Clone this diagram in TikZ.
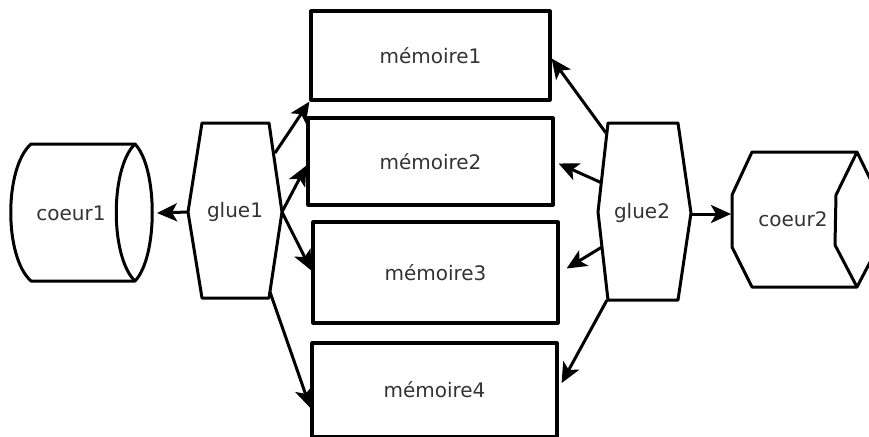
\documentclass[tikz,border=0pt]{standalone}
\usepackage{fontspec}
\setmainfont{DejaVu Sans}
\usetikzlibrary{arrows.meta,calc}
\begin{document}
\begin{tikzpicture}[x=0.5pt,y=-0.5pt,line width=1.5pt,line join=round,
  txt/.style={text=black!80,inner sep=0pt,font=\fontsize{10}{12}\selectfont},
  membox/.style={txt,draw=black,line width=1.6pt,rectangle},
  conn/.style={-{Stealth[length=10pt,width=9pt,inset=2.5pt]}}]
\useasboundingbox (0,0) rectangle (869,436);
\clip (0,0) rectangle (869,436);
% memories
\node[membox,minimum width=119.5pt,minimum height=44.5pt] (mem1) at (430.5,55.5) {mémoire1};
\node[membox,minimum width=122.5pt,minimum height=43.5pt] (mem2) at (430.5,161.5) {mémoire2};
\node[membox,minimum width=122.5pt,minimum height=50.5pt] (mem3) at (435.5,272.5) {mémoire3};
\node[membox,minimum width=122.5pt,minimum height=47pt] (mem4) at (434.5,390) {mémoire4};
% coeur1
\draw (31,144) -- (135,144) .. controls (158,168) and (158,257) .. (135,281) -- (31,281)
      .. controls (4,257) and (4,168) .. (31,144) -- cycle;
\draw (135,144) .. controls (110,168) and (110,257) .. (135,281);
\node[txt] (coeur1) at (71,213) {coeur1};
% coeur2
\draw (752,152) -- (857,152) -- (878,195) -- (879,245) -- (857,287) -- (752,287)
      -- (732,247) -- (732,195) -- cycle;
\draw (857,152) -- (836,195) -- (835,245) -- (857,287);
\node[txt] (coeur2) at (793,219) {coeur2};
% glue1
\draw (202,123) -- (269,123) -- (282,212) -- (269,298) -- (202,298) -- (188,212) -- cycle;
\node[txt] (glue1) at (235,212) {glue1};
% glue2
\draw (608,123) -- (678,123) -- (691,213) -- (678,300) -- (608,300) -- (598,212) -- cycle;
\node[txt] (glue2) at (642,213) {glue2};
% anchor points
\coordinate (g1w) at (188,212);
\coordinate (c1e) at (157,213);
\coordinate (g1n) at (275,153);
\coordinate (g1e) at (282,212);
\coordinate (g1s) at (270,292);
\coordinate (g2e) at (691,214);
\coordinate (c2w) at (731,214);
\coordinate (g2a) at (606,133);
\coordinate (g2b) at (602,183);
\coordinate (g2c) at (602,247);
\coordinate (g2d) at (607,300);
% connectors
\draw[conn] (g1w) -- (c1e);
\draw[conn] (g2e) -- (c2w);
\draw[conn] (g1n) -- (mem1.south west);
\draw[conn] (g1e) -- ($(mem2.west)+(0,4)$);
\draw[conn] (g1e) -- ($(mem3.west)+(0,-2)$);
\draw[conn] (g1s) -- ($(mem4.west)+(0,18)$);
\draw[conn] (g2a) -- ($(mem1.east)+(0,3)$);
\draw[conn] (g2b) -- ($(mem2.east)+(4,2)$);
\draw[conn] (g2c) -- ($(mem3.east)+(7,-4)$);
\draw[conn] (g2d) -- ($(mem4.east)+(3,-7)$);
\end{tikzpicture}
\end{document}
